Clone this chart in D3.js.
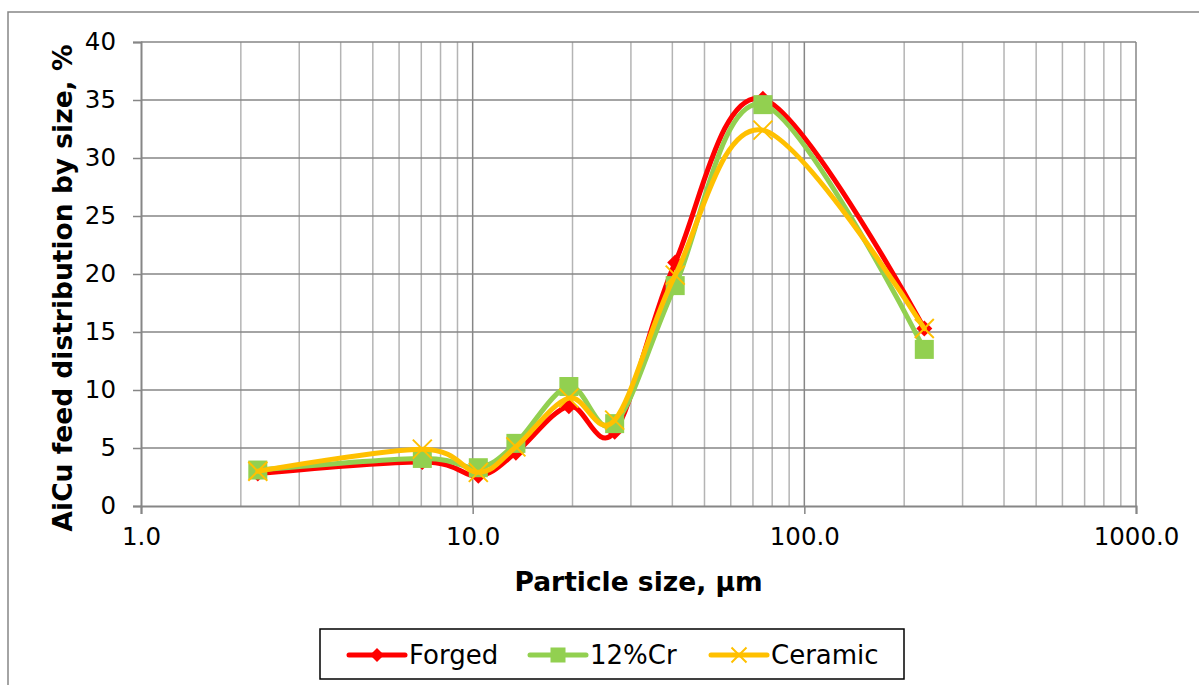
<!DOCTYPE html>
<html><head><meta charset="utf-8">
<script src="https://cdn.jsdelivr.net/npm/d3@7"></script>
<style>body{margin:0;background:#fff}svg{display:block}</style>
</head><body>
<svg id="c" width="1199" height="685"></svg>
<script>
const sizes = [2.25, 7.05, 10.4, 13.5, 19.5, 26.8, 40.8, 75, 230];
const forged = [2.8, 3.8, 2.6, 4.6, 8.6, 6.4, 21.0, 35.1, 15.3];
const cr12 = [3.1, 4.1, 3.3, 5.4, 10.3, 7.1, 19.0, 34.6, 13.5];
const ceramic = [3.0, 4.9, 2.9, 5.1, 9.3, 7.4, 19.9, 32.4, 15.3];
const seriesNames = ["Forged", "12%Cr", "Ceramic"];
const seriesColors = ["#FF0000", "#92D050", "#FFC000"];
const xTicks = [1, 10, 100, 1000];
const yTicks = [0, 5, 10, 15, 20, 25, 30, 35, 40];

const svg = d3.select("#c");
const L = 141, R = 1136, T = 42, B = 506;
const x = d3.scaleLog().domain([1, 1000]).range([L, R]);
const y = d3.scaleLinear().domain([0, 40]).range([B, T]);
const font = "'DejaVu Sans', Verdana, sans-serif";

// outer border
svg.append("rect").attr("x", 8).attr("y", 12).attr("width", 1400).attr("height", 1000)
  .attr("fill", "none").attr("stroke", "#868686").attr("stroke-width", 1.5);

// minor vertical grid
const minor = [];
[1, 10, 100].forEach(d => { for (let k = 2; k <= 9; k++) minor.push(d * k); });
svg.append("g").selectAll("line").data(minor).join("line")
  .attr("x1", d => x(d)).attr("x2", d => x(d)).attr("y1", T).attr("y2", B)
  .attr("stroke", "#B4B4B4").attr("stroke-width", 1.5);
// major vertical grid
svg.append("g").selectAll("line").data([10, 100, 1000]).join("line")
  .attr("x1", d => x(d)).attr("x2", d => x(d)).attr("y1", T).attr("y2", B)
  .attr("stroke", "#868686").attr("stroke-width", 1.5);
// horizontal grid
svg.append("g").selectAll("line").data(yTicks.filter(d => d > 0)).join("line")
  .attr("x1", L).attr("x2", R).attr("y1", d => y(d)).attr("y2", d => y(d))
  .attr("stroke", "#868686").attr("stroke-width", 1.5);

// axes
const yAxis = d3.axisLeft(y).tickValues(yTicks).tickSize(8).tickPadding(17);
const gy = svg.append("g").attr("transform", `translate(${L},0)`).call(yAxis);
const xAxis = d3.axisBottom(x).tickValues(xTicks).tickSize(8).tickPadding(14).tickFormat(d3.format(".1f"));
const gx = svg.append("g").attr("transform", `translate(0,${B})`).call(xAxis);
[gx, gy].forEach(g => {
  g.select(".domain").attr("stroke", "#868686").attr("stroke-width", 2);
  g.selectAll(".tick line").attr("stroke", "#868686").attr("stroke-width", 1.5);
  g.selectAll("text").attr("font-family", font).attr("font-size", 24.5).attr("fill", "#000");
});

// titles
svg.append("text").attr("x", (L + R) / 2).attr("y", 591).attr("text-anchor", "middle")
  .attr("font-family", font).attr("font-weight", "bold").attr("font-size", 26.5).text("Particle size, µm");
svg.append("text").attr("transform", `translate(72,288) rotate(-90)`).attr("text-anchor", "middle")
  .attr("font-family", font).attr("font-weight", "bold").attr("font-size", 26.5).text("AiCu feed distribution by size, %");

const line = d3.line().x(d => x(d[0])).y(d => y(d[1])).curve(d3.curveCardinal.tension(0));
const seriesData = [forged, cr12, ceramic];

function marker(g, i, cx, cy, s) {
  const c = seriesColors[i];
  if (i === 0) {
    g.append("path").attr("d", `M${cx},${cy - s}L${cx + s},${cy}L${cx},${cy + s}L${cx - s},${cy}Z`).attr("fill", c);
  } else if (i === 1) {
    g.append("rect").attr("x", cx - s).attr("y", cy - s).attr("width", 2 * s).attr("height", 2 * s).attr("fill", c);
  } else {
    g.append("path").attr("d", `M${cx - s},${cy - s}L${cx + s},${cy + s}M${cx - s},${cy + s}L${cx + s},${cy - s}`)
      .attr("stroke", c).attr("stroke-width", 2).attr("fill", "none");
  }
}

seriesData.forEach((vals, i) => {
  const pts = sizes.map((s, j) => [s, vals[j]]);
  const g = svg.append("g");
  g.append("path").attr("d", line(pts)).attr("fill", "none").attr("stroke", seriesColors[i])
    .attr("stroke-width", 5).attr("stroke-linejoin", "round").attr("stroke-linecap", "round");
  pts.forEach(p => marker(g, i, x(p[0]), y(p[1]), i === 0 ? 8 : 9.5));
});

// legend
const lg = svg.append("g");
lg.append("rect").attr("x", 320).attr("y", 629).attr("width", 584).attr("height", 50)
  .attr("fill", "#fff").attr("stroke", "#000").attr("stroke-width", 1.5);
const legendX = [349, 530, 711];
seriesNames.forEach((n, i) => {
  const x0 = legendX[i], cy = 655;
  lg.append("line").attr("x1", x0).attr("x2", x0 + 56).attr("y1", cy).attr("y2", cy)
    .attr("stroke", seriesColors[i]).attr("stroke-width", 5).attr("stroke-linecap", "round");
  marker(lg, i, x0 + 28, cy, i === 0 ? 7 : 7.5);
  lg.append("text").attr("x", x0 + 60).attr("y", cy + 9).attr("font-family", font).attr("font-size", 26)
    .attr("fill", "#000").text(n);
});
</script>
</body></html>
